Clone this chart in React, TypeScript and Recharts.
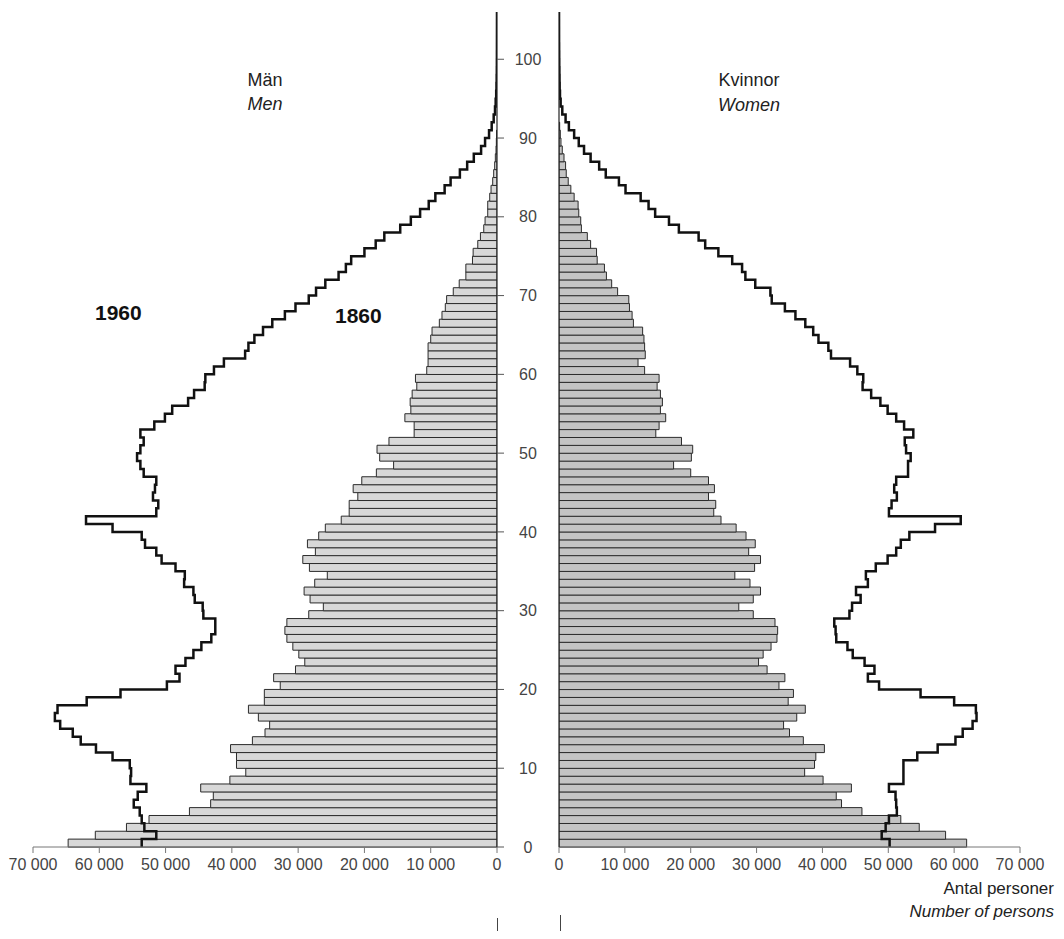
import React from 'react';
import { ComposedChart, Bar, Line, XAxis, YAxis } from 'recharts';

// one row per year of age, 0..105
const ages = Array.from({ length: 106 }, (_, i) => i);

const men1860 = [
  64700, 60600, 55900, 52500, 46400, 43200, 42800, 44700, 40300, 37900,
  39300, 39300, 40200, 36900, 35000, 34300, 36000, 37500, 35100, 35100,
  32700, 33700, 30400, 29000, 29900, 30800, 31700, 32000, 31700, 28400,
  26200, 28200, 29100, 27500, 25600, 28300, 29300, 27400, 28600, 26900,
  25900, 23500, 22300, 22300, 21000, 21700, 20400, 18200, 15600, 17700,
  18100, 16300, 12500, 12500, 13900, 13000, 13100, 12800, 12100, 12300,
  10600, 10400, 10400, 10400, 10000, 9800, 8700, 8300, 7800, 7600,
  6600, 5700, 4700, 4700, 3700, 3600, 2900, 2500, 2000, 1800,
  1400, 1400, 1100, 900, 650, 500, 350, 250, 150, 100, 60,
];

const women1860 = [
  61900, 58700, 54700, 51900, 46000, 42900, 42100, 44400, 40100, 37300,
  38800, 39000, 40300, 37100, 35000, 34100, 36100, 37400, 34800, 35600,
  33400, 34300, 31600, 30300, 31000, 32200, 33100, 33200, 32800, 29500,
  27300, 29500, 30600, 29000, 26700, 29700, 30600, 28800, 29800, 28400,
  26900, 24600, 23500, 23800, 22700, 23600, 22700, 20000, 17400, 20100,
  20300, 18600, 14700, 15200, 16200, 15400, 15700, 15400, 14900, 15200,
  13000, 12000, 13100, 13000, 12900, 12700, 11300, 11100, 10700, 10600,
  8900, 8000, 7200, 6900, 5800, 5700, 4800, 4300, 3400, 3300,
  3000, 2900, 2300, 1800, 1400, 1100, 1000, 760, 500, 300, 200, 100,
];

const men1960 = [
  53600, 51400, 53200, 53600, 53900, 54800, 54200, 52900, 55300, 55200,
  55400, 58000, 60500, 62800, 64000, 65900, 66700, 66300, 61900, 56800,
  49800, 47900, 48500, 47000, 45800, 44600, 43100, 42500, 42500, 44300,
  44400, 45600, 45800, 47200, 47100, 48500, 50600, 51400, 53100, 53600,
  58000, 62000, 51400, 51100, 51900, 51600, 51400, 53300, 53800, 54300,
  53800, 53300, 53800, 51700, 50100, 49000, 46600, 45700, 44100, 44000,
  42700, 41200, 38000, 37500, 36600, 35300, 33900, 32000, 30400, 28400,
  27300, 25900, 23900, 22800, 22000, 20000, 18300, 17000, 14600, 13000,
  11600, 10300, 9300, 7900, 7000, 5600, 4500, 3500, 2400, 1800,
  1200, 800, 500, 300, 200, 120, 80, 50, 30, 20,
  15, 10, 8, 5, 3, 2,
];

const women1960 = [
  50200, 49000, 49600, 50100, 51300, 51200, 51100, 50100, 52300, 52300,
  52300, 54400, 57500, 60200, 61300, 62800, 63400, 63300, 60000, 54900,
  48600, 46900, 47900, 46400, 44600, 43800, 42100, 42000, 41800, 44100,
  44500, 45800, 45100, 46900, 46600, 48100, 49900, 51200, 51900, 53200,
  57100, 61000, 50100, 50500, 51300, 50900, 51200, 53000, 53000, 53400,
  52700, 52500, 53800, 52400, 51200, 49900, 48800, 47400, 46100, 46200,
  45300, 44200, 41300, 40900, 39400, 38600, 37400, 35900, 34300, 32300,
  32100, 29800, 28300, 27800, 26300, 24200, 22200, 21200, 18200, 16700,
  14600, 13600, 12400, 10100, 9100, 7100, 6100, 4800, 3800, 3000,
  2300, 1500, 1000, 500, 250, 150, 100, 80, 60, 40,
  30, 20, 10, 8, 5, 3,
];

const countTicks = [0, 10000, 20000, 30000, 40000, 50000, 60000, 70000];
const ageTicks = [0, 10, 20, 30, 40, 50, 60, 70, 80, 90, 100];

const menRows = ages.map((age, i) => ({
  age,
  mid: age + 0.5,
  y1860: men1860[i] ?? null,
  y1960: men1960[i],
}));
const womenRows = ages.map((age, i) => ({
  age,
  mid: age + 0.5,
  y1860: women1860[i] ?? null,
  y1960: women1960[i],
}));

const FONT = "'Liberation Sans', Arial, sans-serif";

const fmtCount = (v: number) => (v === 0 ? '0' : `${v / 1000} 000`);

// step curve for a line running bottom-to-top: vertical runs over each age band,
// horizontal jumps half way between band centres; ends stretched by half a band
function stepVertical(context: any) {
  let pts: number[][] = [];
  return {
    areaStart() {},
    areaEnd() {},
    lineStart() {
      pts = [];
    },
    point(x: number, y: number) {
      pts.push([+x, +y]);
    },
    lineEnd() {
      const n = pts.length;
      if (!n) return;
      const h0 = n > 1 ? (pts[1][1] - pts[0][1]) / 2 : 0;
      context.moveTo(pts[0][0], pts[0][1] - h0);
      for (let i = 1; i < n; i++) {
        const ym = (pts[i - 1][1] + pts[i][1]) / 2;
        context.lineTo(pts[i - 1][0], ym);
        context.lineTo(pts[i][0], ym);
      }
      const h1 = n > 1 ? (pts[n - 1][1] - pts[n - 2][1]) / 2 : 0;
      context.lineTo(pts[n - 1][0], pts[n - 1][1] + h1);
    },
  };
}

const label: React.CSSProperties = {
  position: 'absolute',
  fontFamily: FONT,
  color: '#222',
  whiteSpace: 'nowrap',
  lineHeight: 1,
};

export default function App() {
  return (
    <div style={{ position: 'relative', width: 1064, height: 939, margin: -8, background: '#fff', fontFamily: FONT, overflow: 'hidden' }}>
      <div style={{ position: 'absolute', left: 0, top: 0 }}>
        <ComposedChart
          width={560}
          height={900}
          data={menRows}
          layout="vertical"
          barCategoryGap={0}
          margin={{ top: 12, right: 3, bottom: 13, left: 33 }}
        >
          <XAxis
            type="number"
            domain={[0, 70000]}
            ticks={countTicks}
            reversed
            allowDataOverflow
            tickFormatter={fmtCount}
            height={40}
            tickSize={6}
            tickMargin={6}
            axisLine={{ stroke: '#777' }}
            tickLine={{ stroke: '#777' }}
            tick={{ fill: '#444', fontSize: 16 }}
          />
          <YAxis yAxisId="band" type="category" dataKey="age" reversed hide />
          <YAxis
            yAxisId="age"
            type="number"
            dataKey="mid"
            domain={[0, 106]}
            allowDataOverflow
            reversed
            ticks={ageTicks}
            interval={0}
            orientation="right"
            width={60}
            tickSize={7}
            tickMargin={24}
            axisLine={{ stroke: '#222', strokeWidth: 1.2 }}
            tickLine={{ stroke: '#555' }}
            tick={{ fill: '#444', fontSize: 16, textAnchor: 'middle' }}
          />
          <Bar
            yAxisId="band"
            dataKey="y1860"
            fill="#d8d8d8"
            stroke="#2b2b2b"
            strokeWidth={1}
            isAnimationActive={false}
          />
          <Line
            yAxisId="age"
            dataKey="y1960"
            type={stepVertical as any}
            stroke="#111"
            strokeWidth={2.5}
            dot={false}
            activeDot={false}
            isAnimationActive={false}
          />
        </ComposedChart>
      </div>

      <div style={{ position: 'absolute', left: 500, top: 0 }}>
        <ComposedChart
          width={564}
          height={900}
          data={womenRows}
          layout="vertical"
          barCategoryGap={0}
          margin={{ top: 12, right: 44, bottom: 13, left: 0 }}
        >
          <XAxis
            type="number"
            domain={[0, 70000]}
            ticks={countTicks}
            allowDataOverflow
            tickFormatter={fmtCount}
            height={40}
            tickSize={6}
            tickMargin={6}
            axisLine={{ stroke: '#777' }}
            tickLine={{ stroke: '#777' }}
            tick={{ fill: '#444', fontSize: 16 }}
          />
          <YAxis yAxisId="band" type="category" dataKey="age" reversed hide />
          <YAxis
            yAxisId="age"
            type="number"
            dataKey="mid"
            domain={[0, 106]}
            allowDataOverflow
            reversed
            ticks={ageTicks}
            interval={0}
            orientation="left"
            width={59}
            tickSize={6}
            tick={false}
            axisLine={{ stroke: '#222', strokeWidth: 1.2 }}
            tickLine={{ stroke: '#555' }}
          />
          <Bar
            yAxisId="band"
            dataKey="y1860"
            fill="#c4c4c4"
            stroke="#2b2b2b"
            strokeWidth={1}
            isAnimationActive={false}
          />
          <Line
            yAxisId="age"
            dataKey="y1960"
            type={stepVertical as any}
            stroke="#111"
            strokeWidth={2.5}
            dot={false}
            activeDot={false}
            isAnimationActive={false}
          />
        </ComposedChart>
      </div>

      <div style={{ ...label, left: 225, width: 80, top: 71, fontSize: 18, textAlign: 'center' }}>Män</div>
      <div style={{ ...label, left: 225, width: 80, top: 95, fontSize: 18, textAlign: 'center', fontStyle: 'italic' }}>Men</div>
      <div style={{ ...label, left: 699, width: 100, top: 71, fontSize: 18, textAlign: 'center' }}>Kvinnor</div>
      <div style={{ ...label, left: 699, width: 100, top: 96, fontSize: 18, textAlign: 'center', fontStyle: 'italic' }}>Women</div>

      <div style={{ ...label, left: 95, top: 302, fontSize: 21, fontWeight: 'bold', color: '#111' }}>1960</div>
      <div style={{ ...label, left: 335, top: 305, fontSize: 21, fontWeight: 'bold', color: '#111' }}>1860</div>

      <div style={{ ...label, right: 10, top: 880, fontSize: 17, textAlign: 'right' }}>Antal personer</div>
      <div style={{ ...label, right: 10, top: 903, fontSize: 17, textAlign: 'right', fontStyle: 'italic' }}>Number of persons</div>

      <div style={{ position: 'absolute', left: 497, top: 918, width: 0, height: 21, borderLeft: '1px solid #444' }} />
      <div style={{ position: 'absolute', left: 560, top: 915, width: 0, height: 24, borderLeft: '1px solid #444' }} />
    </div>
  );
}
